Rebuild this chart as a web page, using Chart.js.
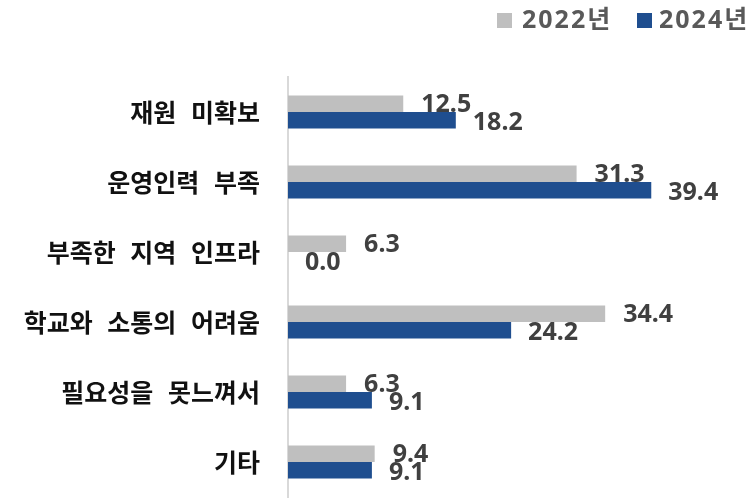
<!DOCTYPE html>
<html><head><meta charset="utf-8">
<script src="https://cdn.jsdelivr.net/npm/chart.js@4/dist/chart.umd.min.js"></script>
<style>html,body{margin:0;padding:0;background:#fff}#wrap{width:749px;height:502px}</style>
</head><body><div id="wrap"><canvas id="c" width="749" height="502"></canvas></div>
<script>
const categories = ['재원 미확보', '운영인력 부족', '부족한 지역 인프라', '학교와 소통의 어려움', '필요성을 못느껴서', '기타'];
const series2022 = [12.5, 31.3, 6.3, 34.4, 6.3, 9.4];
const series2024 = [18.2, 39.4, 0.0, 24.2, 9.1, 9.1];
const seriesNames = ['2022년', '2024년'];
const seriesColors = ['#bfbfbf', '#1f4e8f'];

const textStyle = {
  id: 'textStyle',
  beforeDraw(chart) { chart.ctx.wordSpacing = '9px'; },
  afterDraw(chart) { chart.ctx.wordSpacing = '0px'; }
};
const valueLabels = {
  id: 'valueLabels',
  afterDatasetsDraw(chart) {
    const ctx = chart.ctx;
    ctx.save();
    ctx.font = 'bold 25px "Noto Sans", "Noto Sans CJK KR", sans-serif';
    ctx.fillStyle = '#404040';
    ctx.textBaseline = 'middle';
    ctx.textAlign = 'left';
    chart.data.datasets.forEach((ds, di) => {
      const meta = chart.getDatasetMeta(di);
      meta.data.forEach((el, i) => {
        const v = ds.data[i];
        ctx.fillText(v.toFixed(1), el.x + (di === 0 ? 18 : 17), el.y + (di === 0 ? 1 : 3));
      });
    });
    ctx.restore();
  }
};
const customLegend = {
  id: 'customLegend',
  afterDraw(chart) {
    const ctx = chart.ctx;
    ctx.save();
    ctx.font = 'bold 25px "Noto Sans", "Noto Sans CJK KR", sans-serif';
    ctx.letterSpacing = '2px';
    ctx.textBaseline = 'middle';
    ctx.textAlign = 'left';
    const boxX = [497, 637], textX = [522, 659];
    chart.data.datasets.forEach((ds, di) => {
      ctx.fillStyle = ds.backgroundColor;
      ctx.fillRect(boxX[di], 13, 15, 15);
      ctx.fillStyle = '#595959';
      ctx.fillText(ds.label, textX[di], 21);
    });
    ctx.restore();
  }
};

new Chart(document.getElementById('c'), {
  type: 'bar',
  data: {
    labels: categories,
    datasets: [
      { label: seriesNames[0], data: series2022, backgroundColor: seriesColors[0] },
      { label: seriesNames[1], data: series2024, backgroundColor: seriesColors[1] }
    ]
  },
  options: {
    indexAxis: 'y',
    responsive: false,
    animation: false,
    devicePixelRatio: 1,
    layout: { padding: { left: 0, right: 0, top: 77, bottom: 5 } },
    datasets: { bar: { barPercentage: 1.0, categoryPercentage: 0.47 } },
    plugins: {
      tooltip: { enabled: false },
      legend: { display: false }
    },
    scales: {
      x: { display: false, min: 0, max: 50 },
      y: {
        grid: { display: false, drawTicks: false },
        border: { display: true, color: '#d9d9d9', width: 2 },
        ticks: {
          color: '#111111', padding: 28,
          font: { family: '"Noto Sans CJK KR", sans-serif', size: 25, weight: 'bold' }
        },
        afterFit(s) { s.width = 288; s.paddingTop = 0; s.paddingBottom = 0; }
      }
    }
  },
  plugins: [textStyle, valueLabels, customLegend]
});
</script></body></html>
